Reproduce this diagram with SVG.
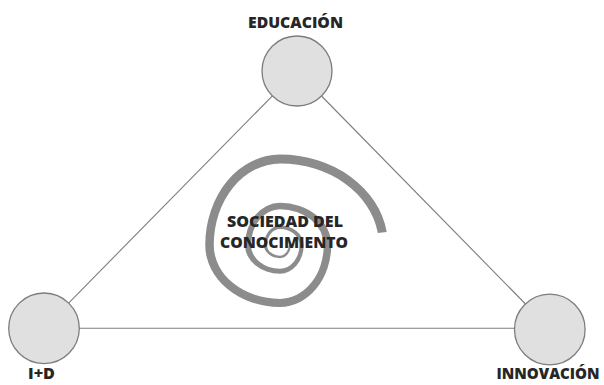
<svg xmlns="http://www.w3.org/2000/svg" width="604" height="385" viewBox="0 0 604 385">
  <style>
    .node circle { fill: #e0e0e0; stroke: #7d7d7d; stroke-width: 1.3; }
    .conn line { stroke: #7d7d7d; stroke-width: 1.1; }
    text { font-family: "Open Sans", "Liberation Sans", sans-serif; font-weight: 800; font-size: 16.5px; fill: #262626; text-anchor: middle; }
    .spiral { fill: #8c8c8c; }
  </style>
  <rect width="604" height="385" fill="#ffffff"/>
  <g id="connectors" class="conn">
    <line x1="272.4" y1="95.9" x2="68.6" y2="303.1"/>
    <line x1="321.5" y1="96.0" x2="525.5" y2="304.0"/>
    <line x1="79" y1="328.3" x2="514.5" y2="328.3"/>
  </g>
  <g id="spiral">
    <path class="spiral" d="M 386.7 231.9 A 108 90.4 0 0 0 280 154.6 A 74.75 90.4 0 0 0 205.25 245 A 74.75 61.9 0 0 0 280 306.9 A 51.25 61.9 0 0 0 331.25 245 A 51.25 42.25 0 0 0 280 202.75 A 35 42.25 0 0 0 245 245 A 35 28.8 0 0 0 280 273.8 A 23.7 28.8 0 0 0 303.7 245 A 23.7 19.5 0 0 0 280 225.5 A 16 19.5 0 0 0 264 245 A 16 13.15 0 0 0 280 258.15 A 10.8 13.15 0 0 0 290.8 245 L 288.8 245 A 8.8 10.65 0 0 1 280 255.65 A 13 10.65 0 0 1 267 245 A 13 15.9 0 0 1 280 229.1 A 19.5 15.9 0 0 1 299.5 245 A 19.5 23.8 0 0 1 280 268.8 A 29 23.8 0 0 1 251 245 A 29 35.75 0 0 1 280 209.25 A 43.75 35.75 0 0 1 323.75 245 A 43.75 53.9 0 0 1 280 298.9 A 66.25 53.9 0 0 1 213.75 245 A 66.25 81.4 0 0 1 280 163.6 A 98.5 81.4 0 0 1 377.8 233.0 Z"/>
  </g>
  <g id="center-label">
    <text x="285" y="226.7" textLength="116" lengthAdjust="spacingAndGlyphs">SOCIEDAD DEL</text>
    <text x="284" y="248.3" textLength="128" lengthAdjust="spacingAndGlyphs">CONOCIMIENTO</text>
  </g>
  <g id="node-educacion" class="node">
    <circle cx="297" cy="71" r="35"/>
    <text x="295.5" y="28.3" textLength="95" lengthAdjust="spacingAndGlyphs">EDUCACIÓN</text>
  </g>
  <g id="node-id" class="node">
    <circle cx="44" cy="328.3" r="35.3"/>
    <text x="41.5" y="379" textLength="27" lengthAdjust="spacingAndGlyphs">I+D</text>
  </g>
  <g id="node-innovacion" class="node">
    <circle cx="549.8" cy="329.5" r="35.3"/>
    <text x="548" y="379" style="font-size:15.5px" textLength="103" lengthAdjust="spacingAndGlyphs">INNOVACIÓN</text>
  </g>
</svg>
